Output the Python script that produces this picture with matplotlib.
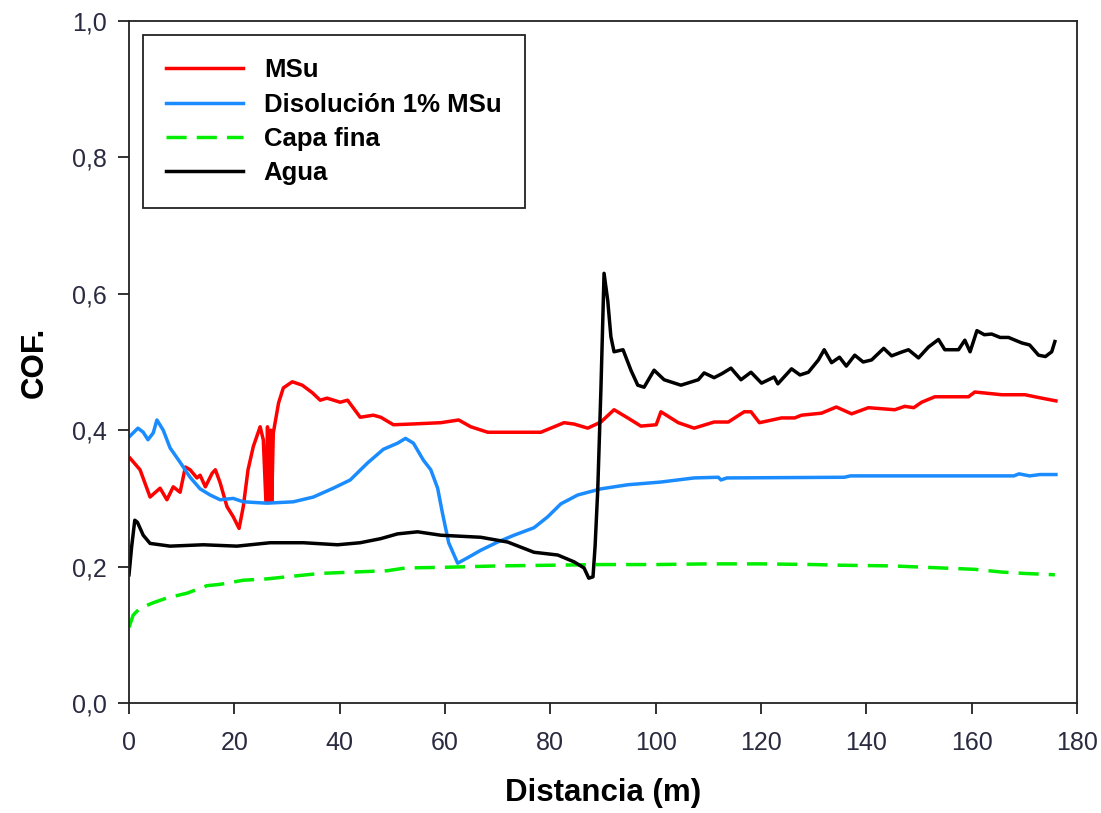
import numpy as np
import matplotlib
matplotlib.use('Agg')
import matplotlib.pyplot as plt
from matplotlib.ticker import FuncFormatter

plt.rcParams['font.family'] = ['Liberation Sans', 'DejaVu Sans']

# MSu
msu_x = [0.2, 2.1, 4.0, 5.9, 7.2, 8.4, 9.7, 10.7, 11.6, 12.9, 13.5, 14.5, 15.8, 16.4, 17.3,
         18.6, 19.8, 20.9, 21.7, 22.6, 23.6, 24.9, 25.5, 26.0, 26.3, 26.6, 26.9, 27.1, 27.4,
         28.4, 29.3, 31.0, 32.9, 34.8, 36.3, 37.6, 40.1, 41.5, 43.9, 46.4, 47.8, 50.2, 53.5,
         59.2, 62.6, 64.9, 68.1, 72.5, 78.2, 82.6, 84.5, 87.1, 89.6, 92.1, 94.7, 97.2, 100.1,
         101.0, 104.3, 107.3, 111.1, 113.8, 116.8, 118.1, 119.7, 123.9, 126.4, 127.7, 131.5,
         134.3, 137.2, 140.4, 145.4, 147.3, 149.0, 150.5, 153.0, 159.4, 160.6, 165.7, 170.1,
         173.3, 176.0]
msu_y = [0.359, 0.342, 0.302, 0.315, 0.298, 0.317, 0.309, 0.346, 0.342, 0.330, 0.334, 0.317,
         0.337, 0.342, 0.323, 0.288, 0.273, 0.256, 0.288, 0.342, 0.376, 0.405, 0.386, 0.295,
         0.405, 0.295, 0.400, 0.295, 0.396, 0.440, 0.462, 0.471, 0.466, 0.455, 0.444, 0.447,
         0.441, 0.444, 0.419, 0.422, 0.419, 0.408, 0.409, 0.411, 0.415, 0.405, 0.397, 0.397,
         0.397, 0.411, 0.409, 0.403, 0.412, 0.430, 0.418, 0.406, 0.408, 0.427, 0.411, 0.403,
         0.412, 0.412, 0.427, 0.427, 0.411, 0.418, 0.418, 0.422, 0.425, 0.434, 0.424, 0.433,
         0.430, 0.435, 0.433, 0.441, 0.449, 0.449, 0.456, 0.452, 0.452, 0.447, 0.443]

# Disolucion 1% MSu
dis_x = [0.0, 1.7, 2.7, 3.6, 4.6, 5.3, 6.5, 7.8, 9.7, 11.6, 13.5, 15.4, 17.3, 19.8, 21.7,
         26.2, 31.2, 35.0, 38.8, 42.0, 45.3, 48.3, 51.0, 52.5, 54.0, 55.9, 57.3, 58.6, 59.5,
         60.7, 62.4, 64.3, 66.8, 70.0, 73.1, 76.9, 79.5, 82.0, 85.2, 89.6, 94.7, 101.0, 107.3,
         111.9, 112.4, 113.5, 135.8, 137.0, 145.0, 168.0, 169.0, 171.0, 173.0, 176.0]
dis_y = [0.390, 0.403, 0.397, 0.386, 0.396, 0.415, 0.400, 0.374, 0.353, 0.331, 0.314, 0.305,
         0.298, 0.300, 0.295, 0.293, 0.295, 0.302, 0.315, 0.327, 0.352, 0.372, 0.381, 0.388,
         0.381, 0.356, 0.342, 0.315, 0.279, 0.235, 0.205, 0.213, 0.224, 0.236, 0.246, 0.257,
         0.273, 0.292, 0.305, 0.314, 0.320, 0.324, 0.330, 0.331, 0.327, 0.330, 0.331, 0.333,
         0.333, 0.333, 0.336, 0.333, 0.335, 0.335]

# Capa fina
capa_x = [0.0, 0.8, 2.1, 4.6, 7.2, 11.0, 14.8, 17.3, 21.7, 26.2, 31.2, 36.3, 42.6, 49.1, 52.5,
          60.0, 70.0, 80.0, 90.0, 100.0, 110.0, 120.0, 130.0, 135.3, 145.0, 154.3, 160.6,
          165.7, 170.0, 175.8]
capa_y = [0.111, 0.129, 0.139, 0.147, 0.154, 0.161, 0.172, 0.174, 0.180, 0.182, 0.186, 0.190,
          0.192, 0.194, 0.198, 0.199, 0.201, 0.202, 0.203, 0.203, 0.204, 0.204, 0.203, 0.202,
          0.201, 0.198, 0.196, 0.192, 0.190, 0.188]

# Agua
agua_x = [0.0, 0.5, 1.1, 1.6, 2.7, 4.0, 7.8, 14.1, 20.5, 26.8, 33.1, 39.6, 43.9, 47.8, 51.0,
          54.8, 59.2, 66.8, 71.9, 76.9, 81.4, 84.5, 86.4, 87.3, 88.1, 88.5, 89.0, 89.6, 90.2,
          90.9, 91.5, 92.1, 93.8, 95.3, 96.6, 97.8, 99.7, 101.6, 104.8, 108.1, 109.2, 111.1,
          112.6, 114.3, 116.2, 118.1, 120.1, 122.5, 123.2, 125.8, 127.4, 129.0, 130.9, 132.0,
          133.4, 134.9, 136.2, 137.8, 139.4, 141.0, 143.3, 144.8, 146.5, 148.0, 149.9, 151.8,
          153.7, 154.9, 157.5, 158.7, 159.7, 161.0, 162.4, 163.8, 165.4, 167.0, 169.5, 171.0,
          172.7, 174.0, 175.2, 175.8]
agua_y = [0.188, 0.229, 0.268, 0.265, 0.246, 0.234, 0.230, 0.232, 0.230, 0.235, 0.235, 0.232,
          0.235, 0.241, 0.248, 0.251, 0.246, 0.243, 0.236, 0.221, 0.217, 0.207, 0.198, 0.183,
          0.185, 0.230, 0.312, 0.459, 0.630, 0.590, 0.537, 0.515, 0.518, 0.488, 0.466, 0.463,
          0.488, 0.474, 0.466, 0.474, 0.484, 0.477, 0.483, 0.491, 0.474, 0.485, 0.469, 0.478,
          0.468, 0.490, 0.481, 0.485, 0.503, 0.518, 0.499, 0.507, 0.494, 0.510, 0.500, 0.503,
          0.520, 0.509, 0.514, 0.518, 0.506, 0.522, 0.533, 0.518, 0.518, 0.532, 0.515, 0.546,
          0.540, 0.541, 0.536, 0.536, 0.528, 0.525, 0.510, 0.508, 0.515, 0.530]

fig = plt.figure(figsize=(11.01, 8.13), dpi=100)
ax = fig.add_axes([129 / 1101, 1 - 703 / 813, 948 / 1101, 682 / 813])

lw = 2.5
ax.plot(msu_x, msu_y, color='#ff0000', lw=lw, label='MSu')
ax.plot(dis_x, dis_y, color='#1a8cff', lw=lw, label='Disolución 1% MSu')
capa_line, = ax.plot(capa_x, capa_y, color='#00ee00', lw=lw, label='Capa fina')
capa_line.set_dashes([5.8, 2.9])
ax.plot(agua_x, agua_y, color='black', lw=lw, label='Agua')

ax.set_xlim(0, 180)
ax.set_ylim(0, 1.0)
ax.set_xticks(np.arange(0, 181, 20))
ax.set_yticks(np.arange(0, 1.01, 0.2))
ax.yaxis.set_major_formatter(FuncFormatter(lambda v, p: f'{v:.1f}'.replace('.', ',')))

for s in ax.spines.values():
    s.set_linewidth(1.3)
    s.set_color('#222222')
ax.tick_params(direction='out', length=8, width=1.3, labelsize=18, colors='#222222')
ax.tick_params(axis='x', pad=12)
ax.tick_params(axis='y', pad=8)
for t in ax.get_xticklabels() + ax.get_yticklabels():
    t.set_color('#2a2a40')

ax.set_xlabel('Distancia (m)', fontsize=22.5, fontweight='bold', labelpad=17)
ax.set_ylabel('COF.', fontsize=22.5, fontweight='bold', labelpad=16)

leg = ax.legend(loc='upper left', bbox_to_anchor=(0.0148, 0.979), borderaxespad=0,
                fancybox=False, edgecolor='#222222', framealpha=1,
                prop={'size': 18.5, 'weight': 'bold'}, handlelength=3.0,
                handletextpad=0.8, labelspacing=0.4, borderpad=0.9)
leg.get_frame().set_linewidth(1.3)

fig.savefig('out.png', dpi=100)
